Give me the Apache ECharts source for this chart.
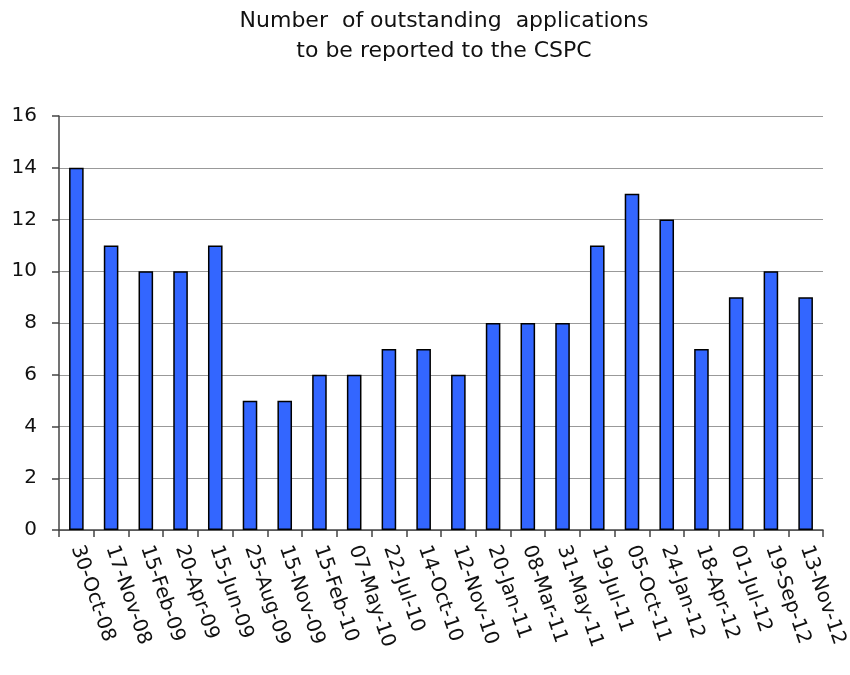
<!DOCTYPE html>
<html>
<head>
<meta charset="utf-8">
<script src="https://cdn.jsdelivr.net/npm/echarts@6/dist/echarts.min.js"></script>
<style>html,body{margin:0;padding:0;background:#fff}#c{width:850px;height:675px}</style>
</head>
<body>
<div id="c"></div>
<script>
const categories = ['30-Oct-08','17-Nov-08','15-Feb-09','20-Apr-09','15-Jun-09','25-Aug-09','15-Nov-09','15-Feb-10','07-May-10','22-Jul-10','14-Oct-10','12-Nov-10','20-Jan-11','08-Mar-11','31-May-11','19-Jul-11','05-Oct-11','24-Jan-12','18-Apr-12','01-Jul-12','19-Sep-12','13-Nov-12'];
const values = [14,11,10,10,11,5,5,6,6,7,7,6,8,8,8,11,13,12,7,9,10,9];
const titleText = 'Number  of outstanding  applications\nto be reported to the CSPC';

const chart = echarts.init(document.getElementById('c'));
chart.setOption({
  animation: false,
  title: {
    text: titleText, left: 439, top: 1, textAlign: 'center',
    textStyle: {fontFamily: 'DejaVu Sans', fontSize: 22, fontWeight: 'normal', color: '#111', lineHeight: 30}
  },
  grid: {left: 59, right: 27, top: 116, bottom: 145, containLabel: false},
  xAxis: {
    type: 'category', data: categories, boundaryGap: true,
    axisLine: {lineStyle: {color: '#444', width: 1.5}},
    axisTick: {show: true, length: 7, alignWithLabel: false, lineStyle: {color: '#444', width: 1.5}},
    axisLabel: {interval: 0, rotate: -71, margin: 16, fontFamily: 'DejaVu Sans', fontSize: 20, color: '#111'}
  },
  yAxis: {
    type: 'value', min: 0, max: 16, interval: 2,
    axisLine: {show: true, lineStyle: {color: '#444', width: 1.5}},
    axisTick: {show: true, length: 7, lineStyle: {color: '#444', width: 1.5}},
    splitLine: {lineStyle: {color: '#999', width: 1}},
    axisLabel: {margin: 22, fontFamily: 'DejaVu Sans', fontSize: 20, color: '#111'}
  },
  series: [{
    type: 'bar', data: values, barWidth: '42%',
    itemStyle: {color: '#3366ff', borderColor: '#000', borderWidth: 1.5}
  }]
});
</script>
</body>
</html>
